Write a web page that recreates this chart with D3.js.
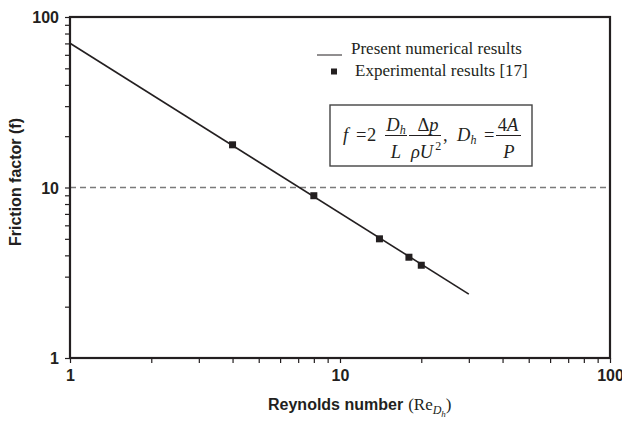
<!DOCTYPE html>
<html>
<head>
<meta charset="utf-8">
<script src="https://cdn.jsdelivr.net/npm/d3@7"></script>
<style>
  html, body { margin: 0; padding: 0; background: #fff; }
  svg { display: block; }
</style>
</head>
<body>
<svg id="chart" width="622" height="421"></svg>
<script>
// Friction factor vs Reynolds number (log-log)
const numRe = [1, 30];             // numerical solution, line end points
const numF = [70.2, 2.37];
const expRe = [4, 8, 14, 18, 20];  // experimental data [17]
const expF = [17.8, 8.95, 5.0, 3.9, 3.5];
const refF = 10;                   // dashed reference level
const xTickValues = [1, 2, 3, 4, 5, 6, 7, 8, 9, 10, 20, 30, 40, 50, 60, 70, 80, 90, 100];
const yTickValues = [1, 2, 3, 4, 5, 6, 7, 8, 9, 10, 20, 30, 40, 50, 60, 70, 80, 90, 100];
const majorTicks = [1, 10, 100];
const xTitle = "Reynolds number";
const yTitle = "Friction factor (f)";
const legendLabels = ["Present numerical results", "Experimental results [17]"];

const SANS = "'Liberation Sans', Arial, sans-serif";
const SERIF = "'Liberation Serif', 'Times New Roman', serif";
const INK = "#231f20";

const svg = d3.select("#chart");
const plot = { left: 70, right: 610, top: 17, bottom: 358 };

const x = d3.scaleLog().domain([1, 100]).range([plot.left, plot.right]);
const y = d3.scaleLog().domain([1, 100]).range([plot.bottom, plot.top]);

const fmt = d => majorTicks.includes(d) ? String(d) : "";

// axes
const xAxis = svg.append("g")
  .attr("transform", `translate(0,${plot.bottom})`)
  .call(d3.axisBottom(x).tickValues(xTickValues).tickFormat(fmt).tickSize(5).tickPadding(7));
const yAxis = svg.append("g")
  .attr("transform", `translate(${plot.left},0)`)
  .call(d3.axisLeft(y).tickValues(yTickValues).tickFormat(fmt).tickSize(5).tickPadding(6));

[xAxis, yAxis].forEach(g => {
  g.select(".domain").remove();
  g.selectAll(".tick line").attr("stroke", INK).attr("stroke-width", 1.2);
  g.selectAll(".tick text")
    .attr("fill", INK)
    .style("font-family", SANS)
    .style("font-weight", "bold")
    .style("font-size", "16px");
});
yAxis.selectAll(".tick text").attr("dy", "0.36em");

// dashed reference line
svg.append("line")
  .attr("x1", plot.left).attr("x2", plot.right)
  .attr("y1", y(refF)).attr("y2", y(refF))
  .attr("stroke", "#7a7a7a")
  .attr("stroke-width", 1.3)
  .attr("stroke-dasharray", "6,4");

// numerical line
const lineData = numRe.map((r, i) => [r, numF[i]]);
svg.append("path")
  .datum(lineData)
  .attr("fill", "none")
  .attr("stroke", INK)
  .attr("stroke-width", 1.6)
  .attr("d", d3.line().x(d => x(d[0])).y(d => y(d[1])));

// experimental markers
const ms = 7;
svg.append("g").selectAll("rect")
  .data(expRe.map((r, i) => [r, expF[i]]))
  .join("rect")
  .attr("x", d => x(d[0]) - ms / 2)
  .attr("y", d => y(d[1]) - ms / 2)
  .attr("width", ms).attr("height", ms)
  .attr("fill", INK);

// frame
svg.append("rect")
  .attr("x", plot.left).attr("y", plot.top)
  .attr("width", plot.right - plot.left)
  .attr("height", plot.bottom - plot.top)
  .attr("fill", "none")
  .attr("stroke", INK)
  .attr("stroke-width", 2.2);

// axis titles
const xt = svg.append("text")
  .attr("x", 268).attr("y", 410)
  .attr("fill", INK);
xt.append("tspan")
  .style("font-family", SANS).style("font-weight", "bold").style("font-size", "16px")
  .text(xTitle);
xt.append("tspan")
  .style("font-family", SERIF).style("font-size", "17px")
  .attr("dx", 5).text("(Re");
xt.append("tspan")
  .style("font-family", SERIF).style("font-style", "italic").style("font-size", "12px")
  .attr("dy", 4).text("D");
xt.append("tspan")
  .style("font-family", SERIF).style("font-style", "italic").style("font-size", "9px")
  .attr("dy", 3).text("h");
xt.append("tspan")
  .style("font-family", SERIF).style("font-size", "17px")
  .attr("dy", -7).text(")");

svg.append("text")
  .attr("transform", "translate(21,182) rotate(-90)")
  .attr("text-anchor", "middle")
  .attr("fill", INK)
  .style("font-family", SANS).style("font-weight", "bold").style("font-size", "16px")
  .text(yTitle);

// legend
svg.append("line")
  .attr("x1", 317).attr("x2", 342).attr("y1", 55).attr("y2", 55)
  .attr("stroke", INK).attr("stroke-width", 1);
svg.append("text")
  .attr("x", 351).attr("y", 54).attr("fill", INK)
  .style("font-family", SERIF).style("font-size", "17px")
  .text(legendLabels[0]);
svg.append("rect")
  .attr("x", 334 - 3).attr("y", 71.5 - 3).attr("width", 6).attr("height", 6)
  .attr("fill", INK);
svg.append("text")
  .attr("x", 355).attr("y", 76).attr("fill", INK)
  .style("font-family", SERIF).style("font-size", "17px")
  .text(legendLabels[1]);

// formula box
svg.append("rect")
  .attr("x", 330).attr("y", 105).attr("width", 202).attr("height", 61)
  .attr("fill", "#fff").attr("stroke", "#444").attr("stroke-width", 1.4);

const fg = svg.append("g").attr("fill", INK)
  .style("font-family", SERIF).style("font-size", "18.5px");

function piece(px, py, parts, anchor) {
  const t = fg.append("text").attr("x", px).attr("y", py)
    .attr("text-anchor", anchor || "start");
  parts.forEach(p => {
    const s = t.append("tspan").text(p.t);
    if (p.i) s.style("font-style", "italic");
    if (p.s) s.style("font-size", p.s + "px");
    if (p.dy) s.attr("dy", p.dy);
    if (p.dx) s.attr("dx", p.dx);
  });
  return t;
}
function bar(x1, x2, yb) {
  fg.append("line").attr("x1", x1).attr("x2", x2).attr("y1", yb).attr("y2", yb)
    .attr("stroke", INK).attr("stroke-width", 1);
}

const base = 141, num = 131, den = 158, barY = 135.5;
piece(343, base, [{ t: "f", i: true }]);
piece(356, base, [{ t: "=" }]);
piece(367, base, [{ t: "2" }]);
bar(385, 407, barY);
piece(396, num, [{ t: "D", i: true }, { t: "h", i: true, s: 12, dy: 3 }], "middle");
piece(396, den, [{ t: "L", i: true }], "middle");
bar(409, 441, barY);
piece(428, num, [{ t: "Δ" }, { t: "p", i: true }], "middle");
piece(426, den, [{ t: "ρU", i: true }, { t: "2", s: 12, dy: -8, dx: 2 }], "middle");
piece(443, base, [{ t: "," }]);
piece(457, base, [{ t: "D", i: true }, { t: "h", i: true, s: 12, dy: 3 }]);
piece(484, base, [{ t: "=" }]);
bar(496, 521, barY);
piece(508, num, [{ t: "4" }, { t: "A", i: true }], "middle");
piece(509, den, [{ t: "P", i: true }], "middle");
</script>
</body>
</html>
